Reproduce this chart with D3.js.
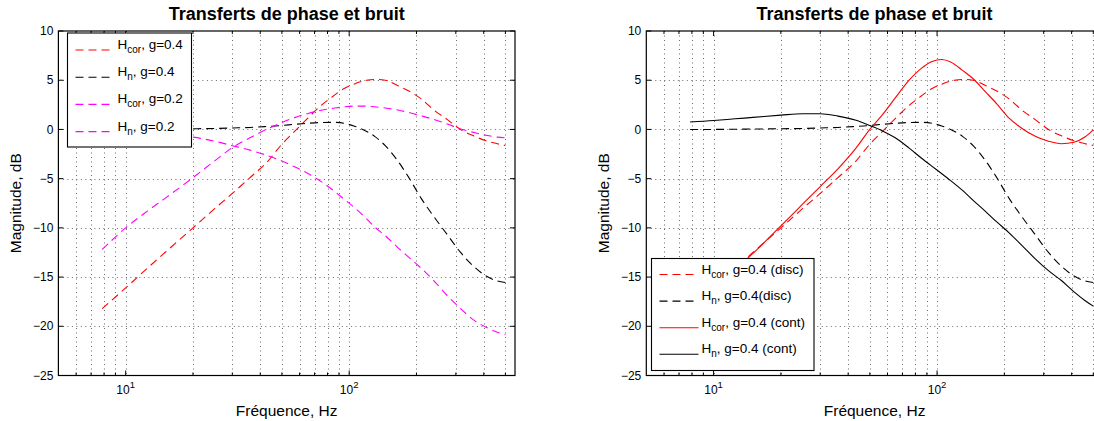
<!DOCTYPE html>
<html><head><meta charset="utf-8">
<script src="https://cdn.jsdelivr.net/npm/d3@7"></script>
<style>
body{margin:0;background:#fff}
svg{display:block}
text{font-family:"Liberation Sans",Arial,Helvetica,sans-serif;fill:#000}
</style>
</head><body>
<svg id="c" width="1094" height="421"></svg>
<script>
// Frequency grid (Hz) shared by all responses
const freq = [7.85, 10, 12.5, 15, 20, 25, 30, 36, 43, 50, 57, 65, 75, 85, 95, 105, 115, 130, 145, 165, 185, 210, 240, 275, 315, 360, 410, 460, 500];

// Magnitudes in dB
const hcorDisc04 = [-18.2, -16.1, -14.1, -12.5, -10.0, -8.05, -6.5, -4.9, -3.3, -1.5, -0.2, 1.1, 2.45, 3.4, 4.15, 4.6, 4.9, 5.08, 5.0, 4.45, 3.9, 3.1, 1.95, 1.0, 0.0, -0.65, -1.15, -1.45, -1.63];
const hnDisc04   = [0.0, 0.0, 0.02, 0.04, 0.07, 0.1, 0.15, 0.2, 0.3, 0.4, 0.52, 0.62, 0.7, 0.72, 0.62, 0.35, 0.0, -0.7, -1.65, -3.2, -4.9, -7.0, -8.9, -10.7, -12.5, -13.9, -14.9, -15.4, -15.55];
const hcorDisc02 = [-12.2, -10.0, -8.3, -7.0, -4.9, -3.2, -1.85, -0.85, 0.05, 0.7, 1.2, 1.6, 1.95, 2.15, 2.3, 2.37, 2.37, 2.3, 2.18, 1.98, 1.72, 1.38, 1.0, 0.55, 0.05, -0.3, -0.6, -0.78, -0.85];
const hnDisc02   = [-0.3, -0.38, -0.48, -0.58, -0.78, -1.2, -1.65, -2.1, -2.65, -3.2, -3.8, -4.45, -5.3, -6.2, -7.1, -7.9, -8.7, -9.9, -10.8, -12.0, -13.0, -14.1, -15.4, -16.9, -18.2, -19.35, -20.1, -20.6, -20.85];
const hcorCont04 = [-18.3, -16.2, -14.2, -12.6, -9.8, -7.6, -5.8, -4.0, -2.0, 0.0, 1.5, 3.2, 5.0, 6.2, 6.9, 7.1, 6.85, 6.0, 5.15, 3.8, 2.6, 1.15, 0.1, -0.7, -1.2, -1.45, -1.3, -0.75, -0.05];
const hnCont04   = [0.75, 0.9, 1.08, 1.22, 1.45, 1.6, 1.6, 1.35, 0.95, 0.4, -0.15, -0.85, -1.9, -2.9, -3.75, -4.5, -5.2, -6.2, -7.2, -8.35, -9.4, -10.5, -11.8, -13.15, -14.35, -15.35, -16.5, -17.4, -17.95];

// Axes ticks and limits
const xLimits = [5, 552];
const yLimits = [-25, 10];
const yTicks = [10, 5, 0, -5, -10, -15, -20, -25];
const xMajorTicks = [10, 100];
const xMinorTicks = [6, 7, 8, 9, 20, 30, 40, 50, 60, 70, 80, 90, 200, 300, 400, 500];

// Texts
const titleText = "Transferts de phase et bruit";
const xLabelText = "Fréquence, Hz";
const yLabelText = "Magnitude, dB";

const leftSeries = [
  {y: hcorDisc04, color: "#ff0000", dash: true, sub: "cor", rest: ", g=0.4"},
  {y: hnDisc04,   color: "#000000", dash: true, sub: "n",   rest: ", g=0.4"},
  {y: hcorDisc02, color: "#ff00ff", dash: true, sub: "cor", rest: ", g=0.2"},
  {y: hnDisc02,   color: "#ff00ff", dash: true, sub: "n",   rest: ", g=0.2"}
];
const rightSeries = [
  {y: hcorDisc04, color: "#ff0000", dash: true,  sub: "cor", rest: ", g=0.4 (disc)"},
  {y: hnDisc04,   color: "#000000", dash: true,  sub: "n",   rest: ", g=0.4(disc)"},
  {y: hcorCont04, color: "#ff0000", dash: false, sub: "cor", rest: ", g=0.4 (cont)"},
  {y: hnCont04,   color: "#000000", dash: false, sub: "n",   rest: ", g=0.4 (cont)"}
];

const svg = d3.select("#c");
const DASH = "8,5";

function drawPanel(id, left, series, legendBox) {
  const top = 31, bottom = 375.5, right = left + 456.6;
  const x = d3.scaleLog().domain(xLimits).range([left, right]);
  const y = d3.scaleLinear().domain(yLimits).range([bottom, top]);
  const g = svg.append("g");

  const clipId = "clip" + id;
  g.append("clipPath").attr("id", clipId)
    .append("rect").attr("x", left).attr("y", top).attr("width", right - left).attr("height", bottom - top);

  // dotted grid
  const grid = g.append("g").attr("stroke", "#444").attr("stroke-width", 0.8).attr("stroke-dasharray", "1,3.5");
  grid.selectAll(".gx").data(xMajorTicks.concat(xMinorTicks)).enter().append("line")
    .attr("x1", d => Math.round(x(d)) + 0.5).attr("x2", d => Math.round(x(d)) + 0.5)
    .attr("y1", top).attr("y2", bottom);
  grid.selectAll(".gy").data(yTicks.slice(1, -1)).enter().append("line")
    .attr("x1", left).attr("x2", right)
    .attr("y1", d => Math.round(y(d)) + 0.5).attr("y2", d => Math.round(y(d)) + 0.5);

  // curves
  const line = d3.line().x((d, i) => x(freq[i])).y(d => y(d)).curve(d3.curveMonotoneX);
  const curves = g.append("g").attr("clip-path", `url(#${clipId})`);
  series.forEach(s => {
    curves.append("path").attr("d", line(s.y)).attr("fill", "none")
      .attr("stroke", s.color).attr("stroke-width", 1.1)
      .attr("stroke-dasharray", s.dash ? DASH : null);
  });

  // box
  g.append("rect").attr("x", left).attr("y", top).attr("width", right - left).attr("height", bottom - top)
    .attr("fill", "none").attr("stroke", "#000").attr("stroke-width", 1.2);

  // ticks, pointing inward on all sides
  const ticks = g.append("g").attr("stroke", "#000").attr("stroke-width", 1);
  yTicks.forEach(t => {
    const yy = y(t);
    ticks.append("line").attr("x1", left).attr("x2", left + 5).attr("y1", yy).attr("y2", yy);
    ticks.append("line").attr("x1", right).attr("x2", right - 5).attr("y1", yy).attr("y2", yy);
  });
  xMajorTicks.forEach(t => {
    const xx = x(t);
    ticks.append("line").attr("x1", xx).attr("x2", xx).attr("y1", bottom).attr("y2", bottom - 5);
    ticks.append("line").attr("x1", xx).attr("x2", xx).attr("y1", top).attr("y2", top + 5);
  });
  xMinorTicks.forEach(t => {
    const xx = x(t);
    ticks.append("line").attr("x1", xx).attr("x2", xx).attr("y1", bottom).attr("y2", bottom - 3);
    ticks.append("line").attr("x1", xx).attr("x2", xx).attr("y1", top).attr("y2", top + 3);
  });

  // tick labels
  g.selectAll(".yl").data(yTicks).enter().append("text")
    .attr("x", left - 5).attr("y", d => y(d) + 4.2)
    .attr("text-anchor", "end").attr("font-size", 12)
    .text(d => d < 0 ? "\u2212" + Math.abs(d) : d);
  xMajorTicks.forEach(t => {
    const tx = g.append("text").attr("x", x(t)).attr("y", 394).attr("text-anchor", "middle").attr("font-size", 12);
    tx.append("tspan").text("10");
    tx.append("tspan").attr("dy", -6).attr("font-size", 9.5).text(Math.round(Math.log10(t)));
  });

  // labels and title
  const cx = (left + right) / 2;
  g.append("text").attr("x", cx).attr("y", 416).attr("text-anchor", "middle").attr("font-size", 15.5).text(xLabelText);
  g.append("text").attr("transform", `translate(${left - 37},${(top + bottom) / 2}) rotate(-90)`)
    .attr("text-anchor", "middle").attr("font-size", 15.5).text(yLabelText);
  g.append("text").attr("x", cx).attr("y", 20).attr("text-anchor", "middle")
    .attr("font-size", 18).attr("font-weight", "bold").text(titleText);

  // legend
  const lg = g.append("g");
  lg.append("rect").attr("x", legendBox.x).attr("y", legendBox.y).attr("width", legendBox.w).attr("height", legendBox.h)
    .attr("fill", "#fff").attr("stroke", "#000").attr("stroke-width", 1.1);
  series.forEach((s, i) => {
    const ly = legendBox.y + legendBox.first + i * legendBox.step;
    lg.append("line").attr("x1", legendBox.x + 8).attr("x2", legendBox.x + 47).attr("y1", ly).attr("y2", ly)
      .attr("stroke", s.color).attr("stroke-width", 1.1).attr("stroke-dasharray", s.dash ? DASH : null);
    const t = lg.append("text").attr("x", legendBox.x + 50).attr("y", ly - 1).attr("font-size", 13.5);
    t.append("tspan").text("H");
    t.append("tspan").attr("dy", 4).attr("font-size", 10).text(s.sub);
    t.append("tspan").attr("dy", -4).text(s.rest);
  });
}

drawPanel("L", 58.4, leftSeries, {x: 67.5, y: 33, w: 124, h: 114, first: 17, step: 27.2});
drawPanel("R", 646.3, rightSeries, {x: 651.5, y: 258.5, w: 162.5, h: 112, first: 16, step: 26.6});
</script>
</body></html>
